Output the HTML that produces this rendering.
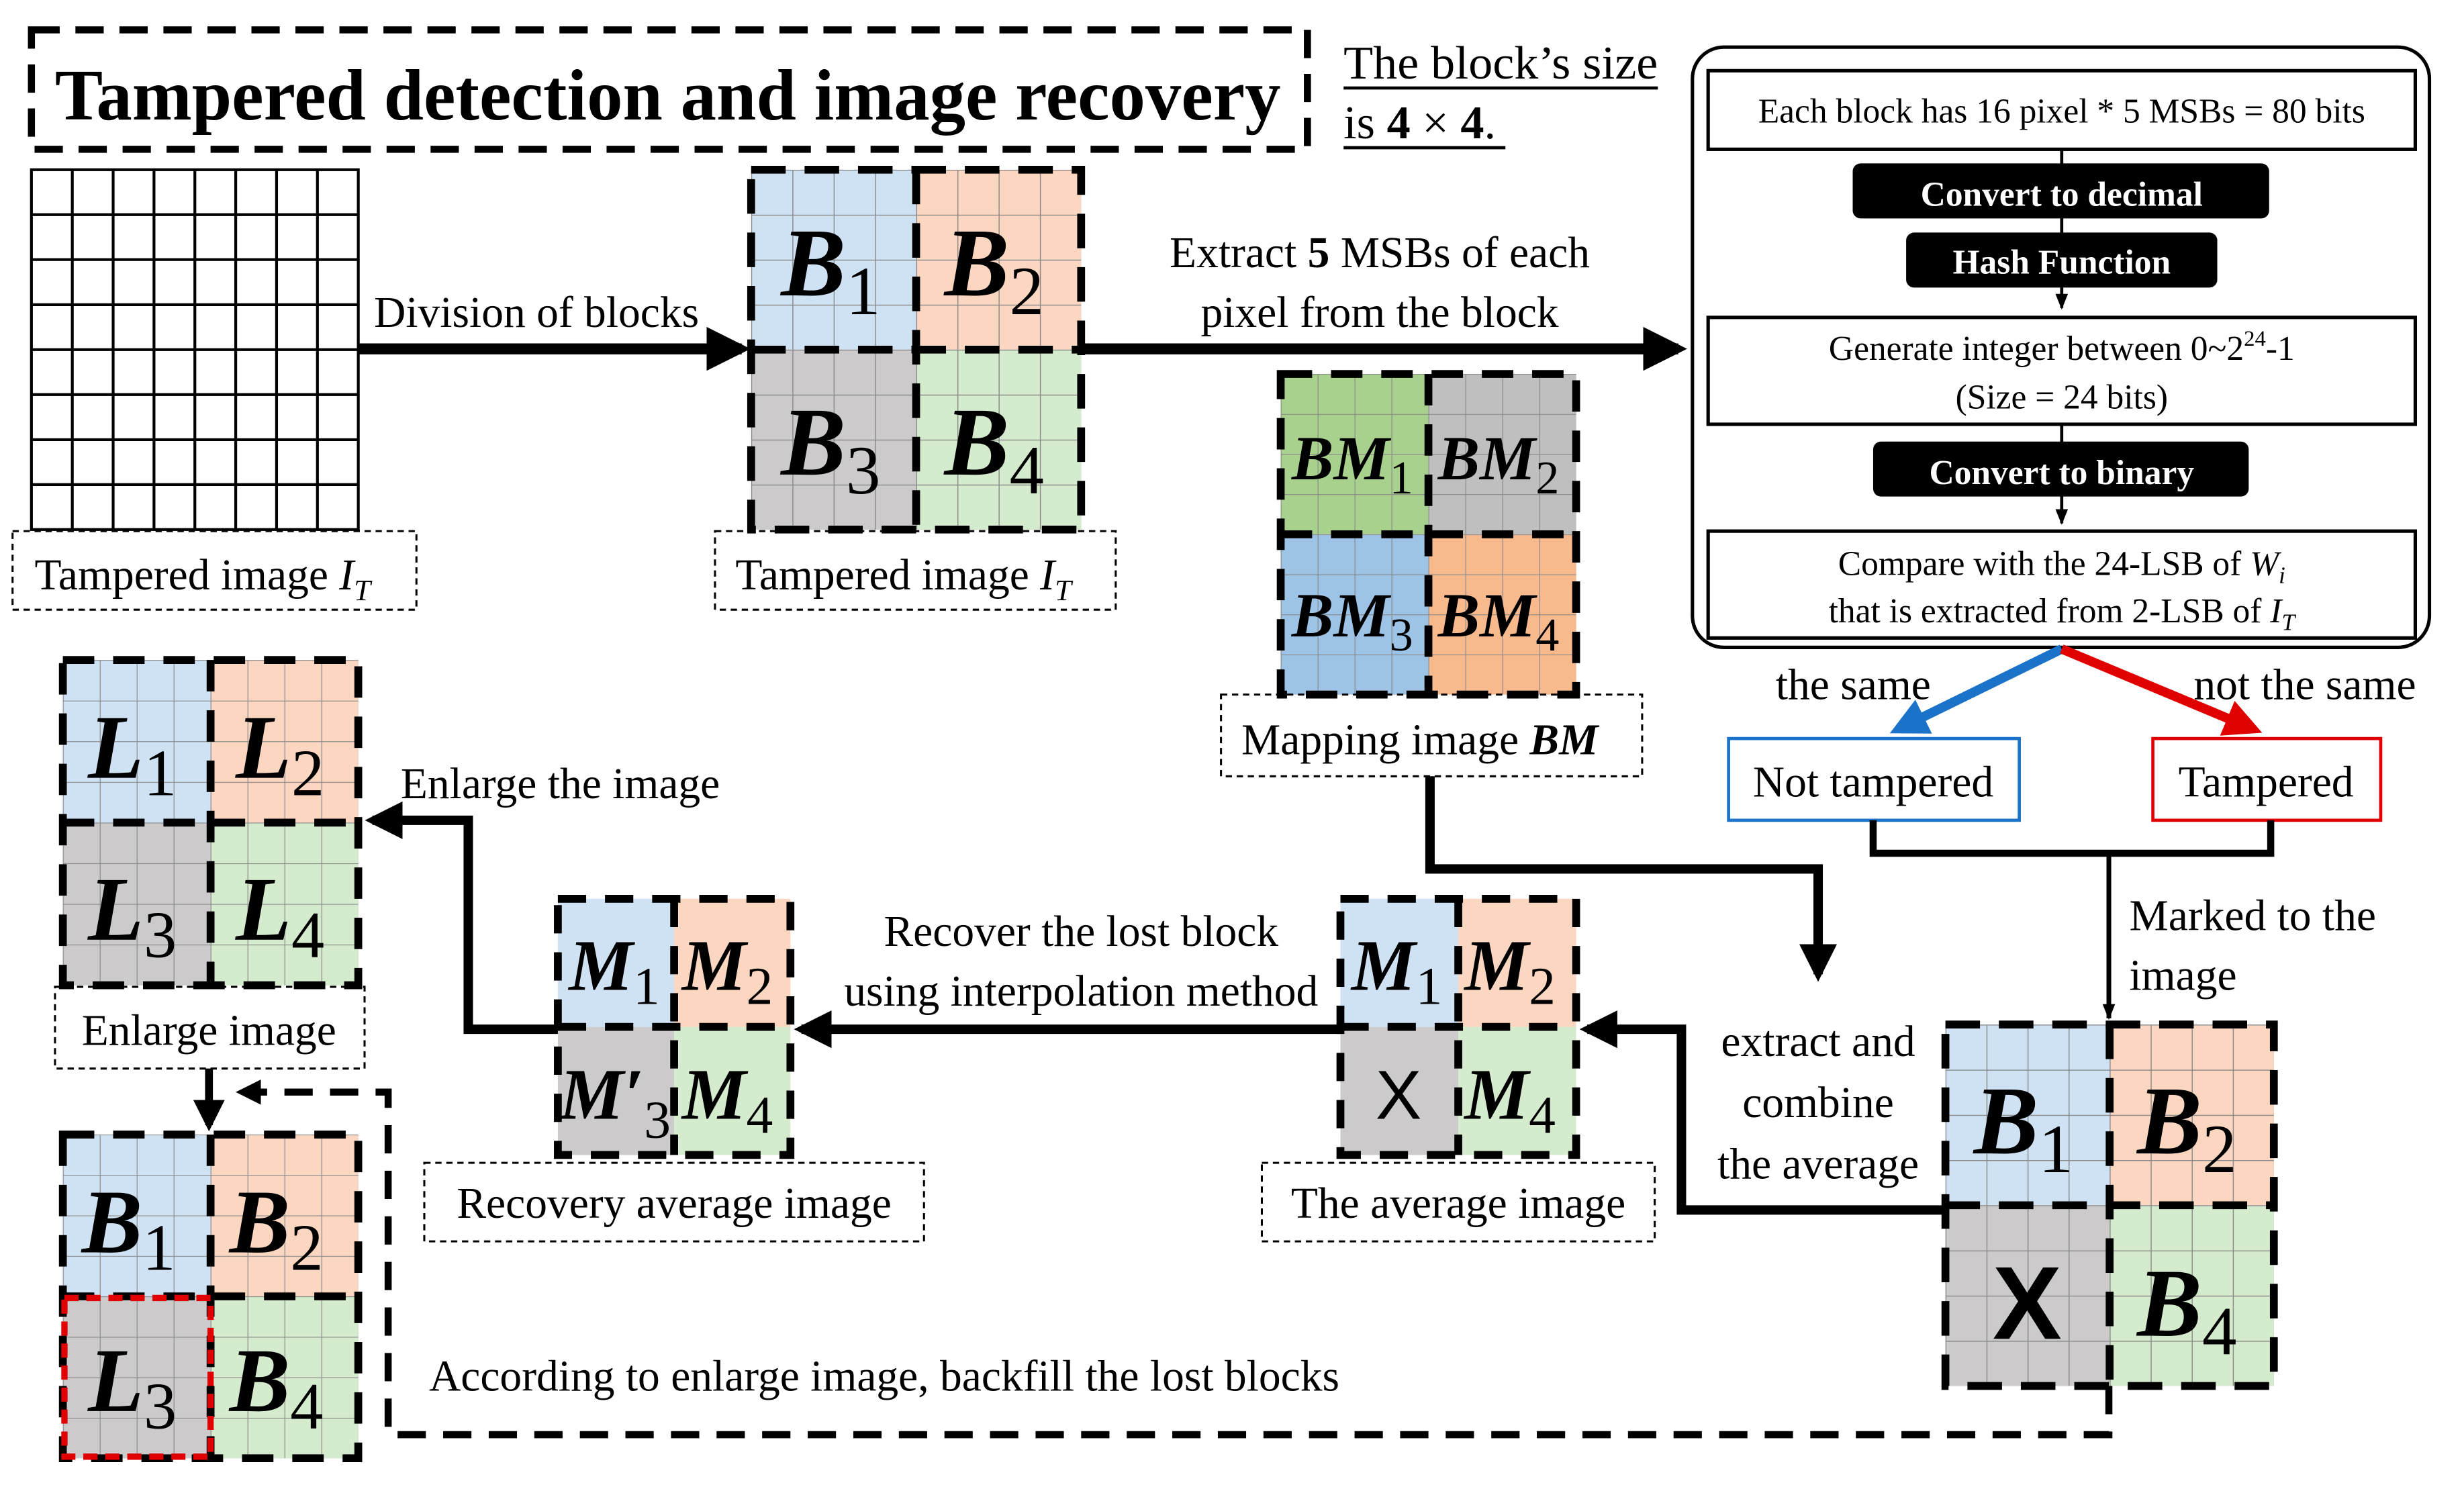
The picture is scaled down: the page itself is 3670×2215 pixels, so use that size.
<!DOCTYPE html>
<html><head><meta charset="utf-8"><style>
html,body{margin:0;padding:0;background:#fff}
svg{display:block}
text{font-family:"Liberation Serif",serif;fill:#000}
.lbl{font-size:28px}
.q{font-weight:bold;font-style:italic}
.sub{font-style:normal;font-weight:normal}
</style></head><body>
<svg width="3670" height="2215" viewBox="0 0 1568 946.3" preserveAspectRatio="none" xmlns="http://www.w3.org/2000/svg">
<defs>
<pattern id="pA" patternUnits="userSpaceOnUse" x="478" y="108" width="26.25" height="28.625"><path d="M0 0V40M0 0H40" stroke="#888" stroke-width="1.2" fill="none"/></pattern>
<pattern id="pBM" patternUnits="userSpaceOnUse" x="815" y="238" width="23.5" height="25.5"><path d="M0 0V40M0 0H40" stroke="#888" stroke-width="1" fill="none"/></pattern>
<pattern id="pBR" patternUnits="userSpaceOnUse" x="1238" y="652" width="26.125" height="28.75"><path d="M0 0V40M0 0H40" stroke="#888" stroke-width="1.2" fill="none"/></pattern>
<pattern id="pL" patternUnits="userSpaceOnUse" x="40" y="420" width="23.5" height="25.875"><path d="M0 0V40M0 0H40" stroke="#888" stroke-width="1" fill="none"/></pattern>
<pattern id="pF" patternUnits="userSpaceOnUse" x="40" y="722" width="23.5" height="25.75"><path d="M0 0V40M0 0H40" stroke="#888" stroke-width="1" fill="none"/></pattern>
<marker id="ah" markerWidth="4" markerHeight="4" refX="3.2" refY="2" orient="auto" markerUnits="strokeWidth"><path d="M0 0L4 2L0 4Z" fill="#000"/></marker>
<marker id="ahs" markerWidth="10" markerHeight="8" refX="9" refY="4" orient="auto" markerUnits="userSpaceOnUse"><path d="M0 0L10 4L0 8Z" fill="#000"/></marker>
<marker id="ahb" markerWidth="4" markerHeight="4" refX="3" refY="2" orient="auto" markerUnits="strokeWidth"><path d="M0 0L4 2L0 4Z" fill="#1a73c8"/></marker>
<marker id="ahr" markerWidth="4" markerHeight="4" refX="3" refY="2" orient="auto" markerUnits="strokeWidth"><path d="M0 0L4 2L0 4Z" fill="#e00000"/></marker>
</defs>

<rect x="20" y="19" width="812" height="76" fill="none" stroke="#000" stroke-width="4.5" stroke-dasharray="18 10"/>
<text x="35" y="76" font-size="46" font-weight="bold" textLength="780" lengthAdjust="spacingAndGlyphs">Tampered detection and image recovery</text>
<text x="855" y="50" font-size="30" textLength="200" lengthAdjust="spacingAndGlyphs">The block’s size</text>
<line x1="855" y1="56" x2="1055" y2="56" stroke="#000" stroke-width="2"/>
<text x="855" y="88" font-size="30">is <tspan font-weight="bold">4</tspan> × <tspan font-weight="bold">4</tspan>.</text>
<line x1="855" y1="94" x2="958" y2="94" stroke="#000" stroke-width="2"/>

<g stroke="#000" stroke-width="1.8" fill="none">
<rect x="20" y="108" width="208" height="229" fill="#fff"/>
<path d="M46 108V337M72 108V337M98 108V337M124 108V337M150 108V337M176 108V337M202 108V337M20 136.6H228M20 165.2H228M20 193.9H228M20 222.5H228M20 251.1H228M20 279.8H228M20 308.4H228"/>
</g>
<rect x="8" y="338" width="257" height="50" fill="none" stroke="#000" stroke-width="1.3" stroke-dasharray="4 3"/>
<text class="lbl" x="22" y="375">Tampered image <tspan font-style="italic">I</tspan><tspan font-style="italic" font-size="19" dy="7">T</tspan></text>

<line x1="228" y1="222" x2="472" y2="222" stroke="#000" stroke-width="7" marker-end="url(#ah)"/>
<text class="lbl" x="238" y="208">Division of blocks</text>

<rect x="478" y="108" width="105" height="114.5" fill="#cfe2f3"/>
<rect x="583" y="108" width="105" height="114.5" fill="#fbd6c0"/>
<rect x="478" y="222.5" width="105" height="114.5" fill="#cccaca"/>
<rect x="583" y="222.5" width="105" height="114.5" fill="#d5ebcd"/>
<rect x="478" y="108" width="210" height="229" fill="url(#pA)"/>
<g fill="none" stroke="#000" stroke-width="5" stroke-dasharray="22 12">
<rect x="478" y="108" width="210" height="229"/><path d="M583 108V337M478 222.5H688"/></g>
<line x1="688" y1="222" x2="1068" y2="222" stroke="#000" stroke-width="7" marker-end="url(#ah)"/>
<g font-size="62" class="q">
<text x="497" y="188">B<tspan class="sub" font-size="44" dy="12">1</tspan></text>
<text x="601" y="188">B<tspan class="sub" font-size="44" dy="12">2</tspan></text>
<text x="497" y="302">B<tspan class="sub" font-size="44" dy="12">3</tspan></text>
<text x="601" y="302">B<tspan class="sub" font-size="44" dy="12">4</tspan></text>
</g>
<rect x="455" y="338" width="255" height="50" fill="none" stroke="#000" stroke-width="1.3" stroke-dasharray="4 3"/>
<text class="lbl" x="468" y="375">Tampered image <tspan font-style="italic">I</tspan><tspan font-style="italic" font-size="19" dy="7">T</tspan></text>

<text class="lbl" x="878" y="170" text-anchor="middle">Extract <tspan font-weight="bold">5</tspan> MSBs of each</text>
<text class="lbl" x="878" y="208" text-anchor="middle">pixel from the block</text>

<rect x="815" y="238" width="94" height="102" fill="#a9d18e"/>
<rect x="909" y="238" width="94" height="102" fill="#bfbfbf"/>
<rect x="815" y="340" width="94" height="102" fill="#9dc3e6"/>
<rect x="909" y="340" width="94" height="102" fill="#f8b98c"/>
<rect x="815" y="238" width="188" height="204" fill="url(#pBM)"/>
<g fill="none" stroke="#000" stroke-width="5" stroke-dasharray="20 12">
<rect x="815" y="238" width="188" height="204"/><path d="M909 238V442M815 340H1003"/></g>
<g font-size="40" class="q">
<text x="822" y="305">BM<tspan class="sub" font-size="30" dy="9">1</tspan></text>
<text x="915" y="305">BM<tspan class="sub" font-size="30" dy="9">2</tspan></text>
<text x="822" y="405">BM<tspan class="sub" font-size="30" dy="9">3</tspan></text>
<text x="915" y="405">BM<tspan class="sub" font-size="30" dy="9">4</tspan></text>
</g>
<rect x="777" y="442" width="268" height="52" fill="none" stroke="#000" stroke-width="1.3" stroke-dasharray="4 3"/>
<text class="lbl" x="790" y="480">Mapping image <tspan font-weight="bold" font-style="italic">BM</tspan></text>

<rect x="1077" y="30" width="469" height="382" rx="20" fill="none" stroke="#000" stroke-width="2.2"/>
<g stroke="#000" stroke-width="2" fill="none">
<line x1="1312" y1="95" x2="1312" y2="196" marker-end="url(#ahs)"/>
<line x1="1312" y1="270" x2="1312" y2="333" marker-end="url(#ahs)"/>
</g>
<g fill="#fff" stroke="#000" stroke-width="2.2">
<rect x="1087" y="45" width="450" height="50"/>
<rect x="1087" y="202" width="450" height="68"/>
<rect x="1087" y="338" width="450" height="68"/>
</g>
<g fill="#000">
<rect x="1179" y="104" width="265" height="35" rx="5"/>
<rect x="1213" y="148" width="198" height="35" rx="5"/>
<rect x="1192" y="281" width="239" height="35" rx="5"/>
</g>
<g font-size="22" text-anchor="middle">
<text x="1312" y="78">Each block has 16 pixel * 5 MSBs = 80 bits</text>
<text x="1312" y="229">Generate integer between 0~2<tspan font-size="14" dy="-9">24</tspan><tspan dy="9">-1</tspan></text>
<text x="1312" y="260">(Size = 24 bits)</text>
<text x="1312" y="366">Compare with the 24-LSB of <tspan font-style="italic">W</tspan><tspan font-style="italic" font-size="15" dy="5">i</tspan></text>
<text x="1312" y="396">that is extracted from 2-LSB of <tspan font-style="italic">I</tspan><tspan font-style="italic" font-size="15" dy="5">T</tspan></text>
<g font-weight="bold">
<text x="1312" y="131" style="fill:#fff">Convert to decimal</text>
<text x="1312" y="174" style="fill:#fff">Hash Function</text>
<text x="1312" y="308" style="fill:#fff">Convert to binary</text>
</g>
</g>

<line x1="1312" y1="413" x2="1208" y2="464" stroke="#1a73c8" stroke-width="6" marker-end="url(#ahb)"/>
<line x1="1312" y1="413" x2="1434" y2="464" stroke="#e00000" stroke-width="6" marker-end="url(#ahr)"/>
<text class="lbl" x="1130" y="445">the same</text>
<text class="lbl" x="1396" y="445">not the same</text>
<rect x="1100" y="470" width="185" height="52" fill="#fff" stroke="#1a73c8" stroke-width="2"/>
<rect x="1370" y="470" width="145" height="52" fill="#fff" stroke="#e00000" stroke-width="2"/>
<text class="lbl" x="1192" y="507" text-anchor="middle">Not tampered</text>
<text class="lbl" x="1442" y="507" text-anchor="middle">Tampered</text>
<path d="M1192 522V543H1445V522" fill="none" stroke="#000" stroke-width="4.5"/>
<line x1="1342" y1="543" x2="1342" y2="648" stroke="#000" stroke-width="3" marker-end="url(#ahs)"/>
<text class="lbl" x="1355" y="592">Marked to the</text>
<text class="lbl" x="1355" y="630">image</text>

<path d="M910 494V553H1157V620" fill="none" stroke="#000" stroke-width="6" marker-end="url(#ah)"/>
<g class="lbl" text-anchor="middle">
<text x="1157" y="672">extract and</text>
<text x="1157" y="711">combine</text>
<text x="1157" y="750">the average</text>
</g>

<rect x="1238" y="652" width="104.5" height="115" fill="#cfe2f3"/>
<rect x="1342.5" y="652" width="104.5" height="115" fill="#fbd6c0"/>
<rect x="1238" y="767" width="104.5" height="115" fill="#cccaca"/>
<rect x="1342.5" y="767" width="104.5" height="115" fill="#d5ebcd"/>
<rect x="1238" y="652" width="209" height="230" fill="url(#pBR)"/>
<g fill="none" stroke="#000" stroke-width="5" stroke-dasharray="22 12">
<rect x="1238" y="652" width="209" height="230"/><path d="M1342.5 652V882M1238 767H1447"/></g>
<g font-size="62" class="q">
<text x="1256" y="734">B<tspan class="sub" font-size="44" dy="12">1</tspan></text>
<text x="1360" y="734">B<tspan class="sub" font-size="44" dy="12">2</tspan></text>
<text x="1360" y="850">B<tspan class="sub" font-size="44" dy="12">4</tspan></text>
</g>
<text x="1290" y="852" font-size="66" font-weight="bold" text-anchor="middle" style="font-family:'Liberation Sans',sans-serif">X</text>

<path d="M1238 770H1070V655H1010" fill="none" stroke="#000" stroke-width="6" marker-end="url(#ah)"/>

<rect x="853" y="572" width="75" height="81.5" fill="#cfe2f3"/>
<rect x="928" y="572" width="75" height="81.5" fill="#fbd6c0"/>
<rect x="853" y="653.5" width="75" height="81.5" fill="#cccaca"/>
<rect x="928" y="653.5" width="75" height="81.5" fill="#d5ebcd"/>
<g fill="none" stroke="#000" stroke-width="5" stroke-dasharray="18 12">
<rect x="853" y="572" width="150" height="163"/><path d="M928 572V735M853 653.5H1003"/></g>
<g font-size="46" class="q">
<text x="860" y="630">M<tspan class="sub" font-size="34" dy="9">1</tspan></text>
<text x="932" y="630">M<tspan class="sub" font-size="34" dy="9">2</tspan></text>
<text x="932" y="712">M<tspan class="sub" font-size="34" dy="9">4</tspan></text>
</g>
<text x="890" y="712" font-size="44" text-anchor="middle" style="font-family:'Liberation Sans',sans-serif">X</text>
<rect x="803" y="740" width="250" height="50" fill="none" stroke="#000" stroke-width="1.3" stroke-dasharray="4 3"/>
<text class="lbl" x="928" y="775" text-anchor="middle">The average image</text>

<line x1="853" y1="655" x2="510" y2="655" stroke="#000" stroke-width="6" marker-end="url(#ah)"/>
<text class="lbl" x="688" y="602" text-anchor="middle">Recover the lost block</text>
<text class="lbl" x="688" y="640" text-anchor="middle">using interpolation method</text>

<rect x="355" y="572" width="74" height="81.5" fill="#cfe2f3"/>
<rect x="429" y="572" width="74" height="81.5" fill="#fbd6c0"/>
<rect x="355" y="653.5" width="74" height="81.5" fill="#cccaca"/>
<rect x="429" y="653.5" width="74" height="81.5" fill="#d5ebcd"/>
<g fill="none" stroke="#000" stroke-width="5" stroke-dasharray="18 12">
<rect x="355" y="572" width="148" height="163"/><path d="M429 572V735M355 653.5H503"/></g>
<g font-size="46" class="q">
<text x="362" y="630">M<tspan class="sub" font-size="34" dy="9">1</tspan></text>
<text x="434" y="630">M<tspan class="sub" font-size="34" dy="9">2</tspan></text>
<text x="356" y="712">M′<tspan class="sub" font-size="34" dy="12">3</tspan></text>
<text x="434" y="712">M<tspan class="sub" font-size="34" dy="9">4</tspan></text>
</g>
<rect x="270" y="740" width="318" height="50" fill="none" stroke="#000" stroke-width="1.3" stroke-dasharray="4 3"/>
<text class="lbl" x="429" y="775" text-anchor="middle">Recovery average image</text>

<path d="M355 655H298V522H237" fill="none" stroke="#000" stroke-width="6" marker-end="url(#ah)"/>
<text class="lbl" x="255" y="508">Enlarge the image</text>

<rect x="40" y="420" width="94" height="103.5" fill="#cfe2f3"/>
<rect x="134" y="420" width="94" height="103.5" fill="#fbd6c0"/>
<rect x="40" y="523.5" width="94" height="103.5" fill="#cccaca"/>
<rect x="134" y="523.5" width="94" height="103.5" fill="#d5ebcd"/>
<rect x="40" y="420" width="188" height="207" fill="url(#pL)"/>
<g fill="none" stroke="#000" stroke-width="5" stroke-dasharray="20 12">
<rect x="40" y="420" width="188" height="207"/><path d="M134 420V627M40 523.5H228"/></g>
<g font-size="58" class="q">
<text x="56" y="495">L<tspan class="sub" font-size="42" dy="11">1</tspan></text>
<text x="150" y="495">L<tspan class="sub" font-size="42" dy="11">2</tspan></text>
<text x="56" y="598">L<tspan class="sub" font-size="42" dy="11">3</tspan></text>
<text x="150" y="598">L<tspan class="sub" font-size="42" dy="11">4</tspan></text>
</g>
<rect x="35" y="628" width="197" height="52" fill="none" stroke="#000" stroke-width="1.3" stroke-dasharray="4 3"/>
<text class="lbl" x="133" y="665" text-anchor="middle">Enlarge image</text>

<line x1="133" y1="680" x2="133" y2="716" stroke="#000" stroke-width="5" marker-end="url(#ah)"/>

<rect x="40" y="722" width="94" height="103" fill="#cfe2f3"/>
<rect x="134" y="722" width="94" height="103" fill="#fbd6c0"/>
<rect x="40" y="825" width="94" height="103" fill="#cccaca"/>
<rect x="134" y="825" width="94" height="103" fill="#d5ebcd"/>
<rect x="40" y="722" width="188" height="206" fill="url(#pF)"/>
<g fill="none" stroke="#000" stroke-width="5" stroke-dasharray="20 12">
<rect x="40" y="722" width="188" height="206"/><path d="M134 722V928M40 825H228"/></g>
<rect x="41" y="826" width="93" height="101" fill="none" stroke="#e00000" stroke-width="4" stroke-dasharray="9 5"/>
<g font-size="58" class="q">
<text x="52" y="797">B<tspan class="sub" font-size="42" dy="11">1</tspan></text>
<text x="146" y="797">B<tspan class="sub" font-size="42" dy="11">2</tspan></text>
<text x="56" y="898">L<tspan class="sub" font-size="42" dy="11">3</tspan></text>
<text x="146" y="898">B<tspan class="sub" font-size="42" dy="11">4</tspan></text>
</g>

<path d="M1342 882V913H247V695H162" fill="none" stroke="#000" stroke-width="4.5" stroke-dasharray="18 11"/>
<path d="M150 695L166 687V703Z" fill="#000"/>
<text class="lbl" x="273" y="885">According to enlarge image, backfill the lost blocks</text>
</svg>
</body></html>
